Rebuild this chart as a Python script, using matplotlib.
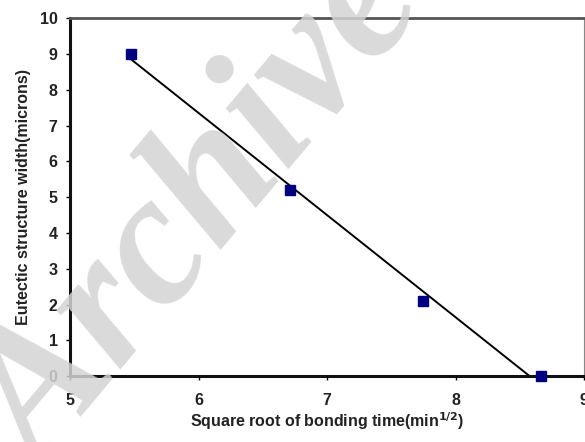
import numpy as np
import matplotlib
matplotlib.use('Agg')
import matplotlib.pyplot as plt

plt.rcParams['font.family'] = ['Liberation Sans', 'DejaVu Sans']

# sqrt of bonding time (min^1/2) vs eutectic width (microns)
sqrt_time = [5.477, 6.708, 7.746, 8.660]
width = [9.0, 5.2, 2.1, 0.0]
x_ticks = [5, 6, 7, 8, 9]
y_ticks = [0, 1, 2, 3, 4, 5, 6, 7, 8, 9, 10]

fig = plt.figure(figsize=(5.85, 4.42), dpi=100)
ax = fig.add_axes([0.1197, 0.149, 0.879, 0.81])

# linear trendline
k, b = np.polyfit(sqrt_time, width, 1)
xs = np.array([sqrt_time[0], sqrt_time[-1]])
ax.plot(xs, k * xs + b, color='black', lw=1.4, zorder=2)
ax.plot(sqrt_time, width, 's', color='#000080', ms=7, zorder=3, clip_on=False)

ax.set_xlim(5, 9)
ax.set_ylim(0, 10)
ax.set_xticks(x_ticks)
ax.set_yticks(y_ticks)
ax.tick_params(labelsize=11.5, width=1, length=3, direction='out')
ax.tick_params(axis='x', pad=9)
ax.tick_params(axis='y', pad=6)
for lbl in ax.get_xticklabels() + ax.get_yticklabels():
    lbl.set_fontweight('bold')
    lbl.set_color('#222222')

for s in ['left', 'bottom']:
    ax.spines[s].set_linewidth(2.2)
    ax.spines[s].set_color('#111111')
ax.spines['top'].set_linewidth(2.0)
ax.spines['top'].set_color('#555555')
ax.spines['right'].set_linewidth(0.8)
ax.spines['right'].set_color('#888888')

ax.set_xlabel('Square root of bonding time(min$^{\\mathbf{1/2}}$)', fontsize=11.5,
              fontweight='bold', color='#222222', labelpad=2)
ax.set_ylabel('Eutectic structure width(microns)', fontsize=11.5,
              fontweight='bold', color='#222222', labelpad=6)

# watermark
fig.text(0.345, 0.515, 'Archive', fontsize=135, family='Liberation Serif',
         fontweight='bold', style='italic', color='#d4d4d4', alpha=0.85,
         rotation=50, ha='center', va='center', zorder=5)

fig.savefig('out.png', dpi=100)
